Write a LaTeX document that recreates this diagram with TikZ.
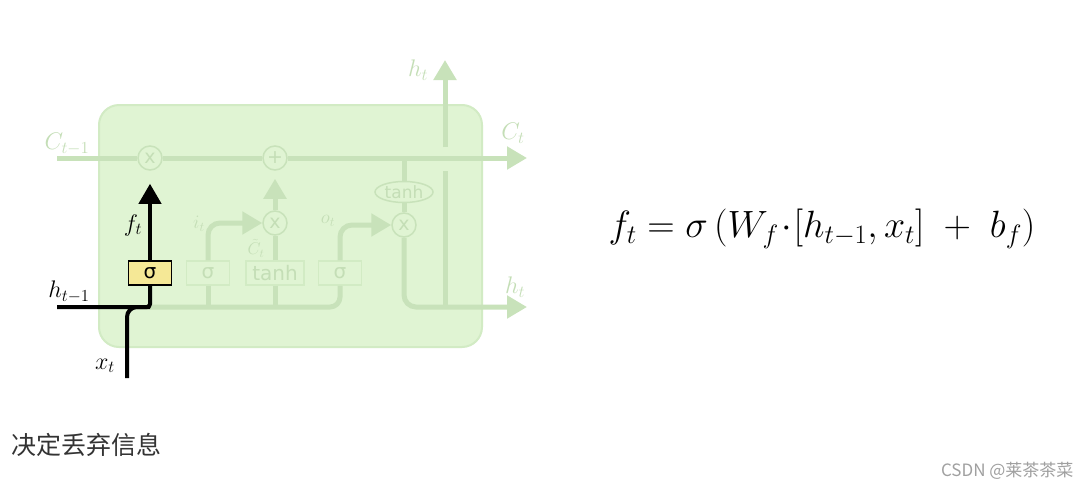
\documentclass[tikz,border=0pt]{standalone}
\usepackage{fix-cm}
\usepackage{amsmath}
\usepackage{fontspec}
\newfontfamily\cjk{Noto Sans CJK SC}
\newfontfamily\gatefont{DejaVu Sans}
\usetikzlibrary{arrows.meta,positioning,shapes.geometric}

\definecolor{cellfill}{RGB}{224,244,211}
\definecolor{celledge}{RGB}{210,235,196}
\definecolor{fadeline}{RGB}{200,226,186}
\definecolor{fadetext}{RGB}{196,222,182}
\definecolor{gatefill}{RGB}{245,232,150}

\tikzset{
  faded/.style={draw=fadeline,line width=5pt},
  strong/.style={draw=black,line width=4pt},
  gatebox/.style={draw=celledge,fill=cellfill,line width=1.5pt,minimum width=43pt,
    minimum height=24pt,inner sep=0pt,text=fadetext,font=\gatefont\fontsize{20}{20}\selectfont},
  forgetbox/.style={gatebox,draw=black,fill=gatefill,text=black},
  pointop/.style={circle,draw=fadeline,fill=cellfill,line width=1.5pt,minimum size=24pt,
    inner sep=0pt,text=fadetext,font=\gatefont\fontsize{19}{19}\selectfont},
  tanhoval/.style={ellipse,draw=fadeline,fill=cellfill,line width=1.5pt,minimum width=58pt,
    minimum height=21pt,inner sep=0pt,text=fadetext,font=\gatefont\fontsize{17}{17}\selectfont},
  lbl/.style={text=fadetext,inner sep=1pt,font=\fontsize{24}{24}\selectfont},
  blbl/.style={lbl,text=black},
}

\begin{document}
\begin{tikzpicture}[x=1pt,y=1pt,>={Triangle[length=20pt,width=22pt]}]
  \fill[white] (0,0) rectangle (1090,-493);
  \useasboundingbox (0,0) rectangle (1090,-493);
  % the cell
  \node[draw=celledge,fill=cellfill,line width=2pt,rounded corners=20pt,
    minimum width=383pt,minimum height=242pt] (cell) at (290.5,-226) {};
  \coordinate (cin) at (57,-158);
  \coordinate (cout) at (527,-158);
  \coordinate (csplit) at (404,-158);
  \coordinate (hin) at (57,-307);
  \coordinate (hjoin) at (150,-307);
  \coordinate (xin) at (127,-378);
  \coordinate (hout) at (527,-307);
  \coordinate (hbase) at (445,-307);
  \coordinate (hgaplo) at (445,-171);
  \coordinate (hgaphi) at (445,-147);
  \coordinate (hup) at (445,-60);
  \node[pointop] (mulf) at (150,-158) {x};
  \node[pointop] (add) at (275,-158) {+};
  \node[gatebox] (sigi) at (208,-273) {σ};
  \node[gatebox,minimum width=58pt] (tanhc) at (275,-273) {tanh};
  \node[gatebox] (sigo) at (340,-273) {σ};
  \node[pointop] (muli) at (275,-223) {x};
  \node[pointop] (mulo) at (404,-225) {x};
  \node[tanhoval] (tanho) at (404,-192) {tanh};
  % faded paths
  \draw[faded,->] (cin) -- (mulf) -- (add) -- (cout);
  \draw[faded,rounded corners=10pt] (hjoin) -| (sigo.south);
  \draw[faded] (sigi.south) -- (sigi.south |- hjoin);
  \draw[faded] (tanhc.south) -- (tanhc.south |- hjoin);
  \draw[faded,->,rounded corners=12pt] (sigi.north) |- (muli.west);
  \draw[faded] (tanhc.north) -- (muli.south);
  \draw[faded,->,shorten >=8pt] (muli.north) -- (add.south);
  \draw[faded,->,rounded corners=12pt] (sigo.north) |- (mulo.west);
  \draw[faded] (csplit) -- (tanho.north);
  \draw[faded] (tanho.south) -- (mulo.north);
  \draw[faded,->,rounded corners=12pt] (mulo.south) |- (hout);
  \draw[faded] (hbase) -- (hgaplo);
  \draw[faded,->] (hgaphi) -- (hup);
  % forget gate
  \node[forgetbox] (sigf) at (150,-273) {σ};
  \draw[strong,rounded corners=3pt] (hin) -| (sigf.south);
  \draw[strong,rounded corners=10pt] (xin) |- (hjoin);
  \draw[strong,->,shorten >=13pt] (sigf.north) -- (mulf.south);
  % labels
  \node[lbl] (lcin) at (67,-144) {$C_{t-1}$};
  \node[lbl] (lcout) at (513,-133) {$C_t$};
  \node[lbl] (lhup) at (418,-70) {$h_t$};
  \node[lbl] (lhout) at (515,-287) {$h_t$};
  \node[lbl,font=\fontsize{19}{19}\selectfont] (li) at (199,-224) {$i_t$};
  \node[lbl,inner sep=0pt,font=\fontsize{17}{17}\selectfont] (lct) at (256,-248) {$\tilde{C}_t$};
  \node[lbl,font=\fontsize{19}{19}\selectfont] (lo) at (328,-221) {$o_t$};
  \node[blbl] (lhin) at (69,-292) {$h_{t-1}$};
  \node[blbl] (lf) at (133,-225) {$f_t$};
  \node[blbl] (lx) at (105,-366) {$x_t$};
  % formula and captions
  \node[font=\fontsize{38}{42}\selectfont] (eq) at (822,-229)
    {$f_t = \sigma\,(W_f\!\cdot\![h_{t-1},x_t] \;+\; b_f)$};
  \node[anchor=west,text={rgb,255:red,51;green,51;blue,51},font=\cjk\fontsize{25}{26}\selectfont] (cap) at (8,-445) {决定丢弃信息};
  \node[anchor=east,text={rgb,255:red,160;green,160;blue,160},font=\cjk\fontsize{17}{18}\selectfont] (mark) at (1077,-471) {CSDN @莱茶茶菜};
\end{tikzpicture}
\end{document}
